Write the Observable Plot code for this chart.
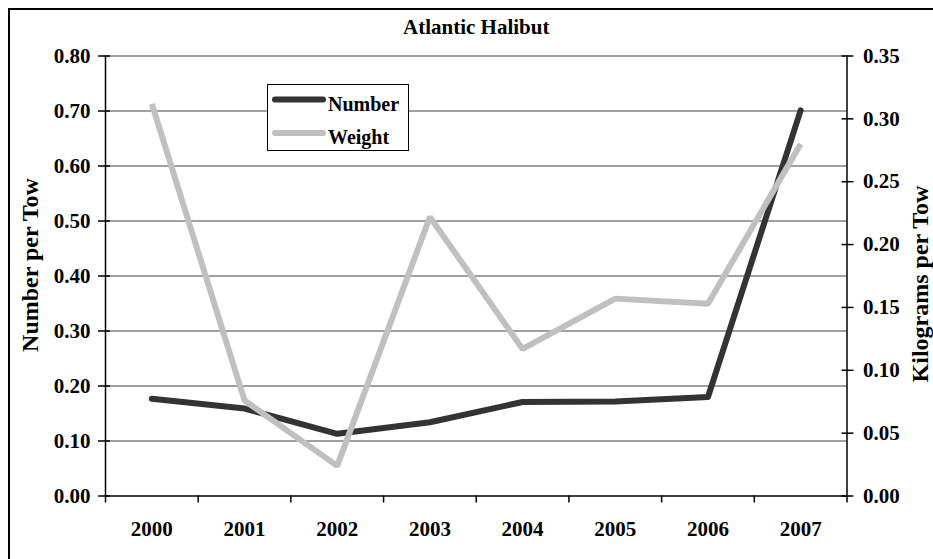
<!DOCTYPE html>
<html>
<head>
<meta charset="utf-8">
<script src="https://cdn.jsdelivr.net/npm/d3@7"></script>
<script src="https://cdn.jsdelivr.net/npm/@observablehq/plot@0.6"></script>
<style>
  html, body { margin: 0; padding: 0; background: white; }
  #wrap { position: relative; width: 933px; height: 559px; overflow: hidden; background: white; }
  #border { position: absolute; left: 8px; top: 8px; width: 1000px; height: 700px; border: 2px solid #000; box-sizing: border-box; }
  #chart { position: absolute; left: 0; top: 0; }
  #legend { position: absolute; left: 267px; top: 84px; }
</style>
</head>
<body>
<div id="wrap">
  <div id="border"></div>
  <div id="chart"></div>
  <div id="legend"></div>
</div>
<script>
const title = "Atlantic Halibut";
const years = [2000, 2001, 2002, 2003, 2004, 2005, 2006, 2007];
const numberPerTow = [0.177, 0.159, 0.113, 0.134, 0.171, 0.172, 0.180, 0.701];
const kgPerTow = [0.312, 0.076, 0.024, 0.222, 0.117, 0.157, 0.153, 0.280];
const seriesNames = ["Number", "Weight"];
const seriesColors = ["#333333", "#c0c0c0"];
const leftTicks = [0, 0.1, 0.2, 0.3, 0.4, 0.5, 0.6, 0.7, 0.8];
const rightTicks = [0, 0.05, 0.1, 0.15, 0.2, 0.25, 0.3, 0.35];
const leftLabel = "Number per Tow";
const rightLabel = "Kilograms per Tow";

const leftMax = leftTicks[leftTicks.length - 1];
const rightMax = rightTicks[rightTicks.length - 1];
const toLeft = k => k * leftMax / rightMax;

const numberData = years.map((y, i) => ({year: y, v: numberPerTow[i]}));
const weightData = years.map((y, i) => ({year: y, v: toLeft(kgPerTow[i])}));
const boundaries = years.map(y => y - 0.5).concat([years[years.length - 1] + 0.5]);
const xDomain = [boundaries[0], boundaries[boundaries.length - 1]];

const font = "'Liberation Serif', 'Times New Roman', Times, serif";

const chart = Plot.plot({
  width: 933,
  height: 559,
  marginLeft: 105,
  marginRight: 86.5,
  marginTop: 55.5,
  marginBottom: 63.5,
  x: {type: "linear", domain: xDomain},
  y: {domain: [0, leftMax]},
  style: {fontFamily: font, fontWeight: "bold", fontSize: "21px", color: "black", background: "transparent", overflow: "visible"},
  marks: [
    Plot.ruleY(leftTicks.filter(d => d > 0), {stroke: "#808080", strokeWidth: 1.6}),
    // x axis: boundary ticks and year labels
    Plot.axisX({ticks: boundaries, tickSize: 7, tickFormat: () => "", strokeWidth: 1.5, label: null}),
    Plot.axisX({ticks: years, tickSize: 0, tickPadding: 25, tickFormat: d => String(d), label: null, fontSize: 21, fontWeight: "bold"}),
    // left axis
    Plot.axisY({anchor: "left", ticks: leftTicks, tickSize: 12, dx: 5, tickFormat: () => "", strokeWidth: 1.5, label: null}),
    Plot.axisY({anchor: "left", ticks: leftTicks, tickSize: 0, tickPadding: 15, tickFormat: d => d.toFixed(2), fontSize: 21, fontWeight: "bold", label: null}),
    // right axis
    Plot.axisY({anchor: "right", ticks: rightTicks.map(toLeft), tickSize: 12, dx: -6, tickFormat: () => "", strokeWidth: 1.5, label: null}),
    Plot.axisY({anchor: "right", ticks: rightTicks.map(toLeft), tickSize: 0, tickPadding: 16, tickFormat: d => (d * rightMax / leftMax).toFixed(2), fontSize: 21, fontWeight: "bold", label: null}),
    // axis titles
    Plot.text([leftLabel], {frameAnchor: "left", textAnchor: "middle", lineAnchor: "middle", dx: -75, dy: -11, rotate: -90, fontSize: 24, fontWeight: "bold", fill: "black"}),
    Plot.text([rightLabel], {frameAnchor: "right", textAnchor: "middle", lineAnchor: "middle", dx: 73, dy: 8, rotate: -90, fontSize: 24, fontWeight: "bold", fill: "black"}),
    // frame lines
    Plot.ruleX(xDomain, {stroke: "black", strokeWidth: 1.5}),
    Plot.ruleY([0], {stroke: "black", strokeWidth: 1.5}),
    // series
    Plot.line(numberData, {x: "year", y: "v", stroke: seriesColors[0], strokeWidth: 6, strokeLinecap: "round", strokeLinejoin: "round"}),
    Plot.line(weightData, {x: "year", y: "v", stroke: seriesColors[1], strokeWidth: 6, strokeLinecap: "butt", strokeLinejoin: "miter"}),
    // title
    Plot.text([title], {frameAnchor: "top", lineAnchor: "middle", dy: -29, fontSize: 21, fontWeight: "bold", fill: "black"})
  ]
});
document.getElementById("chart").appendChild(chart);

// legend
const lg = d3.select("#legend").append("svg")
  .attr("width", 143).attr("height", 68)
  .style("font-family", font).style("font-weight", "bold").style("font-size", "20px");
lg.append("rect").attr("x", 0.5).attr("y", 0.5).attr("width", 141).attr("height", 66)
  .attr("fill", "white").attr("stroke", "black").attr("stroke-width", 1);
seriesNames.forEach((name, i) => {
  const cy = 15.5 + i * 33.5;
  lg.append("line").attr("x1", 8).attr("x2", 56).attr("y1", cy).attr("y2", cy)
    .attr("stroke", seriesColors[i]).attr("stroke-width", 6).attr("stroke-linecap", "round");
  lg.append("text").attr("x", 61).attr("y", cy + 11).attr("fill", "black").text(name);
});
</script>
</body>
</html>
